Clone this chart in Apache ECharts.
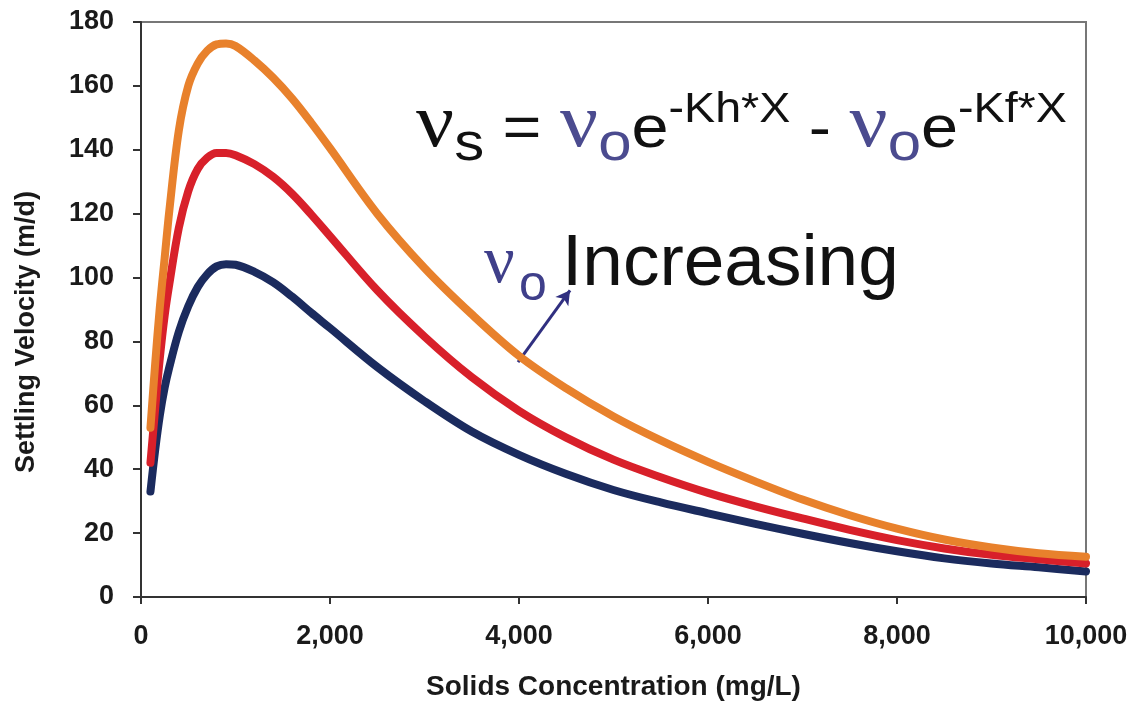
<!DOCTYPE html>
<html>
<head>
<meta charset="utf-8">
<script src="https://cdn.jsdelivr.net/npm/echarts@6/dist/echarts.min.js"></script>
<style>
html,body{margin:0;padding:0;background:#fff;}
#chart{width:1135px;height:706px;}
</style>
</head>
<body>
<div id="chart"></div>
<script>
// Solids concentration (mg/L)
var concentration = [100,150,200,250,300,400,500,600,700,800,900,1000,1200,1400,1600,1800,2000,2500,3000,3500,4000,4500,5000,5500,6000,6500,7000,7500,8000,8500,9000,9500,10000];
// Settling velocity (m/d), lowest v0 (navy)
var velocityLow = [33,46,57,65.5,72,83,91,97,101,103.5,104.2,104,101.8,98.5,94,89,84.2,72,61.3,51.8,44.5,38.5,33.5,29.6,26.2,22.9,19.8,16.9,14.3,12.1,10.5,9.3,8];
// middle v0 (red)
var velocityMid = [42,59,75,88,98,115.5,127,134,137.5,139,139,138.3,135.5,131.5,126.2,119.8,113,96,81.5,68.8,58.3,49.9,43,37.5,32.6,28.4,24.6,21,17.8,15.2,13.2,11.8,10.5];
// highest v0 (orange)
var velocityHigh = [53,73,91,106,121,146,160,167,171,173,173.3,172.5,168,162.5,156,148.5,140.5,120,103,88.5,75.5,65.3,56.5,49,42.3,36.2,30.5,25.6,21.4,18,15.5,13.7,12.6];
var yTicks = [0,20,40,60,80,100,120,140,160,180];
var xTicks = [0,2000,4000,6000,8000,10000];

function pairs(ys){ return concentration.map(function(x,i){ return [x, ys[i]]; }); }

var chart = echarts.init(document.getElementById('chart'), null, {renderer:'canvas'});
var sans = '"Liberation Sans", Arial, sans-serif';
var serif = '"Liberation Serif", "DejaVu Serif", serif';
var lineStyleBase = {width:8, cap:'round', join:'round'};

chart.setOption({
  animation:false,
  backgroundColor:'#fff',
  grid:{left:141, right:49, top:22, bottom:107, show:true, borderColor:'#777', borderWidth:2, backgroundColor:'transparent'},
  xAxis:{
    type:'value', min:xTicks[0], max:xTicks[xTicks.length-1], interval:2000,
    name:'Solids Concentration (mg/L)', nameLocation:'middle', nameGap:76,
    nameTextStyle:{fontFamily:sans, fontWeight:'bold', fontSize:28, color:'#1a1a1a'},
    axisLine:{show:true, onZero:false, lineStyle:{color:'#333', width:2}},
    axisTick:{show:true, inside:false, length:7, lineStyle:{color:'#333', width:2}},
    axisLabel:{fontFamily:sans, fontWeight:'bold', fontSize:27, color:'#1a1a1a', margin:26,
      formatter:function(v){ return v.toLocaleString('en-US'); }},
    splitLine:{show:false}
  },
  yAxis:{
    type:'value', min:yTicks[0], max:yTicks[yTicks.length-1], interval:20,
    axisLine:{show:true, onZero:false, lineStyle:{color:'#333', width:2}},
    axisTick:{show:true, inside:false, length:8, lineStyle:{color:'#333', width:2}},
    axisLabel:{fontFamily:sans, fontWeight:'bold', fontSize:27, color:'#1a1a1a', margin:27},
    splitLine:{show:false}
  },
  series:[
    {type:'line', name:'low', data:pairs(velocityLow), showSymbol:false, smooth:0.35,
      lineStyle:Object.assign({color:'#1B2B5E'}, lineStyleBase), z:3},
    {type:'line', name:'mid', data:pairs(velocityMid), showSymbol:false, smooth:0.35,
      lineStyle:Object.assign({color:'#D8202A'}, lineStyleBase), z:4},
    {type:'line', name:'high', data:pairs(velocityHigh), showSymbol:false, smooth:0.35,
      lineStyle:Object.assign({color:'#E8812C'}, lineStyleBase), z:5,
      markLine:{silent:true, symbol:['none','arrow'], symbolSize:[12,14],
        label:{show:false},
        lineStyle:{color:'#302F80', width:3, type:'solid'},
        data:[[{coord:[3990,73.5]},{coord:[4540,96]}]]}
    }
  ],
  graphic:[
    {type:'text', x:27, y:332, rotation:Math.PI/2,
      style:{text:'Settling Velocity (m/d)', fontFamily:sans, fontWeight:'bold', fontSize:27, fill:'#1a1a1a', align:'center', verticalAlign:'middle'}},
    {type:'text', x:416, y:80, z:20, scaleX:1.11, scaleY:1,
      style:{
        text:'{nu|ν}{sub|s}{m| = }{nuc|ν}{subc|o}{m|e}{sup|-Kh*X}{m| - }{nuc|ν}{subc|o}{m|e}{sup|-Kf*X}',
        align:'left', verticalAlign:'top',
        rich:{
          m:{fontFamily:sans, fontSize:60, lineHeight:100, verticalAlign:'middle', fill:'#111'},
          nu:{fontFamily:serif, fontSize:76, lineHeight:100, height:92, verticalAlign:'top', fill:'#111'},
          nuc:{fontFamily:serif, fontSize:76, lineHeight:100, height:92, verticalAlign:'top', fill:'#4B4B8F'},
          sub:{fontFamily:sans, fontSize:54, lineHeight:100, height:70, verticalAlign:'bottom', fill:'#111'},
          subc:{fontFamily:sans, fontSize:54, lineHeight:100, height:70, verticalAlign:'bottom', fill:'#4B4B8F'},
          sup:{fontFamily:sans, fontSize:42, lineHeight:100, height:60, verticalAlign:'top', fill:'#111'}
        }
      }},
    {type:'text', x:484, y:264, z:20,
      style:{text:'ν', fontFamily:serif, fontSize:68, fill:'#3F3F8A', align:'left', verticalAlign:'middle'}},
    {type:'text', x:519, y:286, z:20,
      style:{text:'o', fontFamily:sans, fontSize:50, fill:'#3F3F8A', align:'left', verticalAlign:'middle'}},
    {type:'text', x:562, y:265, z:20,
      style:{text:'Increasing', fontFamily:sans, fontSize:73, fill:'#111', align:'left', verticalAlign:'middle'}}
  ]
});
</script>
</body>
</html>
